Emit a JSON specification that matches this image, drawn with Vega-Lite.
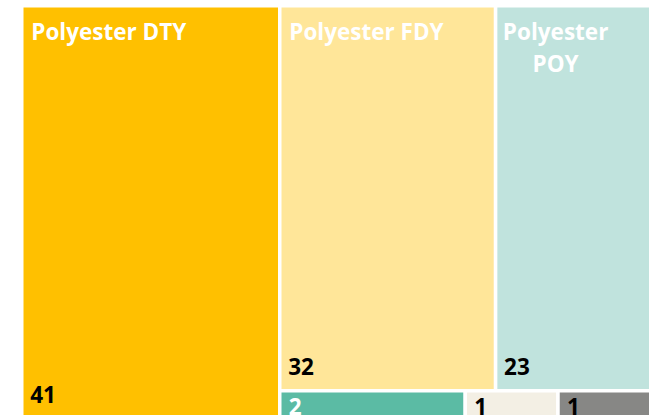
{
  "$schema": "https://vega.github.io/schema/vega-lite/v6.json",
  "padding": {"left": 19.75, "top": 3.75, "right": 0, "bottom": 0},
  "background": "white",
  "data": {"values": [
    {"product": "Polyester DTY", "value": 41},
    {"product": "Polyester FDY", "value": 32},
    {"product": "Polyester POY", "value": 23},
    {"product": "Polyester Chips", "value": 2},
    {"product": "Nylon", "value": 1},
    {"product": "Others", "value": 1}
  ]},
  "config": {
    "view": {"stroke": null},
    "concat": {"spacing": 0},
    "text": {"font": "Open Sans", "fontWeight": "bold", "fontSize": 22.5}
  },
  "spacing": 0,
  "bounds": "flush",
  "hconcat": [
    {
      "width": 258,
      "height": 413,
      "transform": [
        {"filter": {"field": "product", "oneOf": ["Polyester DTY"]}},
        {"stack": "value", "groupby": [], "sort": [{"field": "value", "order": "descending"}], "as": ["x0", "x1"]}
      ],
      "layer": [
        {
          "mark": {"type": "rect", "stroke": "white", "strokeWidth": 3.5},
          "encoding": {
            "x": {"field": "x0", "type": "quantitative", "axis": null, "scale": {"nice": false, "zero": true}},
            "x2": {"field": "x1"},
            "color": {"field": "product", "type": "nominal", "legend": null,
              "scale": {"domain": ["Polyester DTY", "Polyester FDY", "Polyester POY", "Polyester Chips", "Nylon", "Others"],
                        "range": ["#FFC000", "#FFE699", "#C0E3DD", "#5BBBA4", "#F3EFE4", "#878785"]}}
          }
        },
        {
          "mark": {"type": "text", "align": "left", "baseline": "alphabetic", "dx": 9.5, "dy": 34.5, "color": "white"},
          "encoding": {
            "x": {"field": "x0", "type": "quantitative"},
            "y": {"datum": 1, "type": "quantitative", "scale": {"domain": [0, 1], "nice": false}, "axis": null},
            "text": {"field": "product"}
          }
        },
        {
          "mark": {"type": "text", "align": "left", "baseline": "alphabetic", "dx": 8.5, "dy": -15.5, "color": "black"},
          "encoding": {
            "x": {"field": "x0", "type": "quantitative"},
            "y": {"datum": 0, "type": "quantitative"},
            "text": {"field": "value"}
          }
        }
      ]
    },
    {
      "spacing": 0,
      "bounds": "flush",
      "vconcat": [
        {
          "width": 371,
          "height": 385,
          "transform": [
            {"filter": {"field": "product", "oneOf": ["Polyester FDY", "Polyester POY"]}},
            {"stack": "value", "groupby": [], "sort": [{"field": "value", "order": "descending"}], "as": ["x0", "x1"]}
          ],
          "layer": [
            {
              "mark": {"type": "rect", "stroke": "white", "strokeWidth": 3.5},
              "encoding": {
                "x": {"field": "x0", "type": "quantitative", "axis": null, "scale": {"nice": false, "zero": true}},
                "x2": {"field": "x1"},
                "color": {"field": "product", "type": "nominal", "legend": null}
              }
            },
            {
              "transform": [{"filter": {"field": "product", "equal": "Polyester FDY"}}],
              "mark": {"type": "text", "align": "left", "baseline": "alphabetic", "dx": 9.5, "dy": 34.5, "color": "white"},
              "encoding": {
                "x": {"field": "x0", "type": "quantitative"},
                "y": {"datum": 1, "type": "quantitative", "scale": {"domain": [0, 1], "nice": false}, "axis": null},
                "text": {"field": "product"}
              }
            },
            {
              "transform": [{"filter": {"field": "product", "equal": "Polyester POY"}}],
              "mark": {"type": "text", "align": "center", "baseline": "alphabetic", "dx": 60, "dy": 34.5, "color": "white", "lineBreak": " ", "lineHeight": 32},
              "encoding": {
                "x": {"field": "x0", "type": "quantitative"},
                "y": {"datum": 1, "type": "quantitative"},
                "text": {"field": "product"}
              }
            },
            {
              "mark": {"type": "text", "align": "left", "baseline": "alphabetic", "dx": 8.5, "dy": -15.5, "color": "black"},
              "encoding": {
                "x": {"field": "x0", "type": "quantitative"},
                "y": {"datum": 0, "type": "quantitative"},
                "text": {"field": "value"}
              }
            }
          ]
        },
        {
          "width": 371,
          "height": 28,
          "transform": [
            {"filter": {"field": "product", "oneOf": ["Polyester Chips", "Nylon", "Others"]}},
            {"stack": "value", "groupby": [], "sort": [{"field": "value", "order": "descending"}], "as": ["x0", "x1"]}
          ],
          "layer": [
            {
              "mark": {"type": "rect", "stroke": "white", "strokeWidth": 3.5},
              "encoding": {
                "x": {"field": "x0", "type": "quantitative", "axis": null, "scale": {"nice": false, "zero": true}},
                "x2": {"field": "x1"},
                "color": {"field": "product", "type": "nominal", "legend": null}
              }
            },
            {
              "mark": {"type": "text", "align": "left", "baseline": "alphabetic", "dx": 9, "dy": 24.5},
              "encoding": {
                "x": {"field": "x0", "type": "quantitative"},
                "y": {"datum": 1, "type": "quantitative", "scale": {"domain": [0, 1], "nice": false}, "axis": null},
                "text": {"field": "value"},
                "color": {"condition": {"test": "datum.product === 'Polyester Chips'", "value": "white"}, "value": "black"}
              }
            }
          ]
        }
      ]
    }
  ]
}
